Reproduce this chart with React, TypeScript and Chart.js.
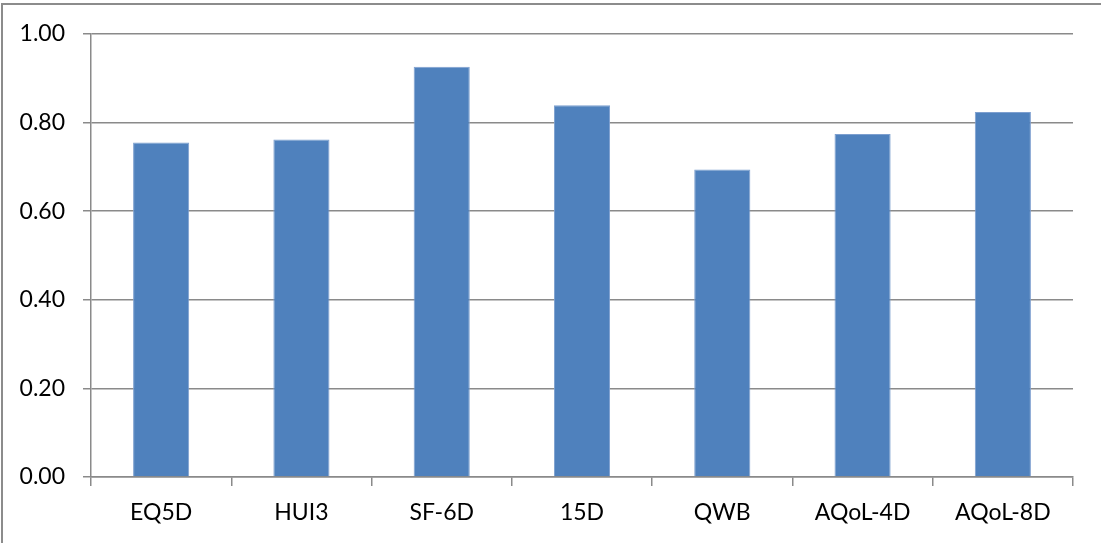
import React, { useEffect, useRef } from "react";
import { Chart, registerables } from "chart.js";

Chart.register(...registerables);

const categories = ["EQ5D", "HUI3", "SF-6D", "15D", "QWB", "AQoL-4D", "AQoL-8D"];
const values = [0.755, 0.762, 0.926, 0.839, 0.694, 0.774, 0.824];
const yTicks = [0, 0.2, 0.4, 0.6, 0.8, 1.0];

const FONT = { family: "Lato", size: 23 };
const GRID = "#8a8a8a";

export default function App() {
  const ref = useRef<HTMLCanvasElement | null>(null);

  useEffect(() => {
    if (!ref.current) return;
    const chart = new Chart(ref.current, {
      type: "bar",
      data: {
        labels: categories,
        datasets: [
          {
            data: values,
            backgroundColor: "#4F81BD",
            borderColor: "#7d9fcf",
            borderWidth: 1,
            barPercentage: 0.4,
            categoryPercentage: 1,
          },
        ],
      },
      options: {
        animation: false,
        responsive: false,
        maintainAspectRatio: false,
        layout: { padding: { top: 34, right: 28, left: 0, bottom: 0 } },
        plugins: { legend: { display: false }, tooltip: { enabled: false } },
        scales: {
          x: {
            offset: true,
            grid: {
              offset: true,
              drawOnChartArea: false,
              drawTicks: true,
              tickLength: 9,
              color: GRID,
              lineWidth: 1.5,
            },
            border: { color: GRID, width: 1.5 },
            ticks: { font: FONT, color: "#000", padding: 13, maxRotation: 0, autoSkip: false },
            afterFit: (s: any) => {
              s.height = 66;
            },
          },
          y: {
            min: 0,
            max: 1,
            afterBuildTicks: (s: any) => {
              s.ticks = yTicks.map((v) => ({ value: v }));
            },
            grid: { color: GRID, lineWidth: 1.5, drawTicks: true, tickLength: 8 },
            border: { color: GRID, width: 1.5 },
            ticks: {
              font: FONT,
              color: "#000",
              padding: 18,
              callback: (v: any) => Number(v).toFixed(2),
            },
            afterFit: (s: any) => {
              s.width = 91;
            },
          },
        },
      },
    });
    return () => chart.destroy();
  }, []);

  return (
    <div
      style={{
        position: "fixed",
        left: 0,
        top: 0,
        width: 1101,
        height: 543,
        overflow: "hidden",
        background: "#fff",
      }}
    >
      <div
        style={{
          position: "absolute",
          left: 1,
          top: 3,
          width: 2000,
          height: 2000,
          borderLeft: "2px solid #8c8c8c",
          borderTop: "2px solid #8c8c8c",
        }}
      />
      <canvas
        ref={ref}
        width={1101}
        height={543}
        style={{ position: "absolute", left: 0, top: 0, width: 1101, height: 543 }}
      />
    </div>
  );
}
